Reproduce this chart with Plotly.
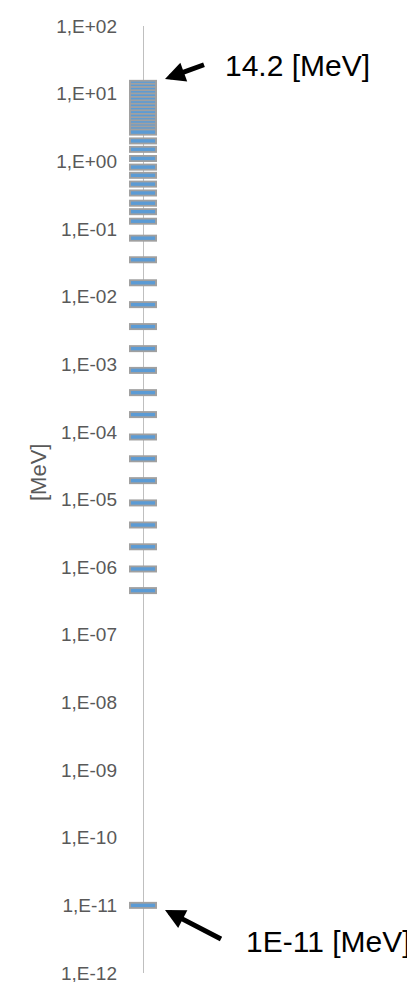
import plotly.graph_objects as go

# Energy group boundaries [MeV] (descending)
energies = [14.2, 12.8, 11.5, 10.3, 9.2, 8.2, 7.3, 6.5, 5.8, 5.2, 4.6, 4.1, 3.7, 3.3, 3.0, 2.7,
            2.0, 1.5, 1.1, 0.82, 0.62, 0.46, 0.34, 0.24, 0.18, 0.13,
            0.073, 0.035, 0.016, 7.6e-3, 3.6e-3, 1.7e-3, 8.1e-4, 3.8e-4, 1.8e-4,
            8.4e-5, 4.0e-5, 1.9e-5, 8.9e-6, 4.2e-6, 2.0e-6, 9.4e-7, 4.5e-7,
            1e-11]
tick_exponents = list(range(-12, 3))
tick_labels = [f"1,E{k:+03d}" for k in tick_exponents]
tick_values = [10.0 ** k for k in tick_exponents]
axis_title = "[MeV]"
top_note = "14.2 [MeV]"
bottom_note = "1E-11 [MeV]"

BLUE = "#5B9BD5"
GRAY = "#A0A0A0"

fig = go.Figure()
for e in energies:
    fig.add_trace(go.Scatter(
        x=[0], y=[e], mode="markers", showlegend=False, hoverinfo="skip",
        marker=dict(symbol="line-ew", size=20, line=dict(width=7, color=GRAY)),
        cliponaxis=False))
    fig.add_trace(go.Scatter(
        x=[0], y=[e], mode="markers", showlegend=False, hoverinfo="skip",
        marker=dict(symbol="line-ew", size=17.2, line=dict(width=3.4, color=BLUE)),
        cliponaxis=False))

W, H = 415, 982
L, R, T, B = 110, 415 - 160, 18, 17
PH = H - T - B


def py(pix):
    return 1 - (pix - T) / PH


def px(pix):
    return (pix - L) / 50


fig.update_layout(
    width=W, height=H,
    margin=dict(l=L, r=R, t=T, b=B, autoexpand=False),
    paper_bgcolor="white", plot_bgcolor="white",
    font=dict(family="Liberation Sans, Arial, sans-serif", color="#595959"),
    xaxis=dict(range=[-1, 1], showgrid=False, showticklabels=False, ticks="",
               zeroline=True, zerolinecolor="#BFBFBF", zerolinewidth=1.3,
               showline=False, automargin=False),
    yaxis=dict(type="log", range=[-12, 2], tickvals=tick_values, ticktext=tick_labels,
               showgrid=False, zeroline=False, showline=False, ticks="",
               automargin=False, tickfont=dict(size=19, color="#595959")),
    annotations=[
        dict(text=axis_title, xref="paper", yref="paper", x=px(30), y=py(465),
             xanchor="center", yanchor="middle",
             textangle=-90, showarrow=False, font=dict(size=22, color="#595959")),
        dict(text=top_note, xref="paper", yref="paper", x=px(215),
             y=py(57), xanchor="left", yanchor="middle", showarrow=False,
             font=dict(size=30, color="black")),
        dict(text=bottom_note, xref="paper", yref="paper", x=px(236),
             y=py(933), xanchor="left", yanchor="middle", showarrow=False,
             font=dict(size=30, color="black")),
        dict(text=" ", xref="paper", yref="paper", x=px(157),
             y=py(71), ax=41, ay=-15, showarrow=True, arrowhead=2,
             arrowsize=0.8, arrowwidth=5, arrowcolor="black", standoff=0,
             font=dict(size=2)),
        dict(text=" ", xref="paper", yref="paper", x=px(157),
             y=py(902), ax=58, ay=30, showarrow=True, arrowhead=2,
             arrowsize=0.8, arrowwidth=5, arrowcolor="black", standoff=0,
             font=dict(size=2)),
    ],
)

fig.write_html("out.html")
